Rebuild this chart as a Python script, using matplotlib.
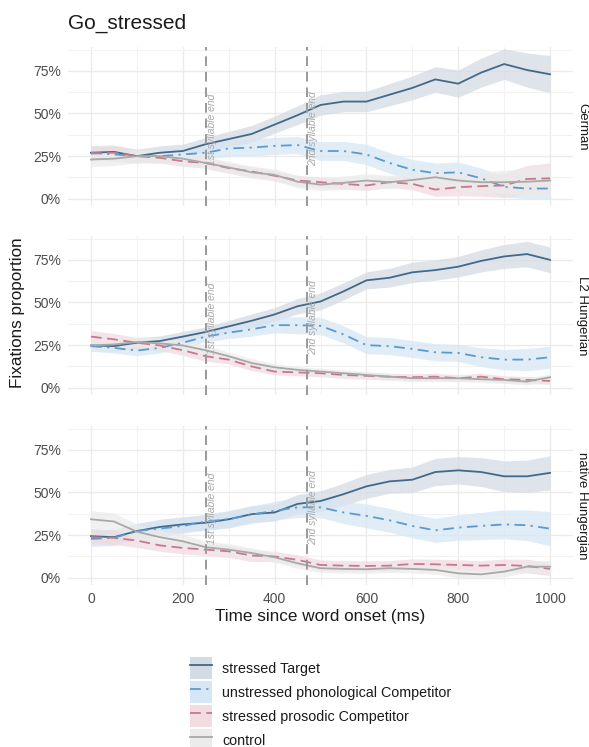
import matplotlib
matplotlib.use('Agg')
import matplotlib.pyplot as plt
from matplotlib.lines import Line2D
from matplotlib.patches import Patch
from matplotlib.ticker import PercentFormatter, MultipleLocator
import numpy as np

plt.rcParams['font.family'] = ['Liberation Sans', 'DejaVu Sans']

time_ms = list(range(0, 1001, 50))
groups = ['German', 'L2 Hungerian', 'native Hungergian']
conditions = ['stressed Target', 'unstressed phonological Competitor',
              'stressed prosodic Competitor', 'control']

# mean fixation proportions (%), one list per group and condition
german_target = [27, 27.5, 25, 27, 28, 32, 35, 38, 43.5, 49, 55, 57, 57, 61, 65, 70, 67.5, 74, 79, 75.5, 73]
german_phono = [27, 26, 25, 25, 26, 27, 29.5, 30, 31, 31.5, 28, 28, 26, 21, 17, 15, 15.5, 12, 7, 6, 6]
german_prosodic = [26.5, 27, 25, 24, 22, 21, 18, 16, 13.5, 10.7, 9.7, 8.7, 7.8, 9.7, 8.7, 5.4, 6.8, 7.4, 7.8, 11.6, 12]
german_control = [23, 23.5, 25, 25, 23.5, 21, 18.4, 15.5, 14, 10, 8.3, 9.3, 10.7, 9.7, 11, 12.6, 10.7, 9.7, 9.7, 10, 10.7]

l2_target = [24.8, 24.4, 26.4, 27.4, 30, 32.7, 36, 39.3, 43, 47.8, 50.6, 56.5, 63, 64.5, 67.7, 69, 71, 74.4, 77, 78.4, 75]
l2_phono = [24.4, 23.4, 21.8, 23.4, 26.4, 30, 32.3, 34.3, 36.7, 36.7, 36.3, 31.3, 25, 24.4, 22.8, 20.8, 20.4, 17.9, 16.5, 16.5, 17.9]
l2_prosodic = [30, 28.4, 26.4, 24.8, 22, 18.5, 16.5, 12.5, 9.5, 9, 8.5, 7.5, 7, 6.5, 6.2, 6.5, 5.6, 6.5, 5, 4.6, 4]
l2_control = [24.8, 25.4, 26.8, 26, 24.8, 22, 18.5, 14.5, 12, 10.5, 9.5, 8.5, 7.5, 6.5, 5.6, 5.6, 5.6, 5, 4.6, 3.6, 6.2]

native_target = [24.4, 23.8, 27.4, 29.8, 31.3, 32.3, 34.3, 37.3, 38.3, 43.3, 45, 49, 53.6, 56.5, 57.5, 62, 63, 62, 59.5, 59.5, 61.5]
native_phono = [22.8, 23.4, 27.4, 28.8, 30.4, 33, 34.3, 37, 39.3, 41.3, 41.3, 38.3, 36.3, 33.7, 30.4, 27.8, 29.4, 30.4, 31.3, 30.8, 28.8]
native_prosodic = [23.8, 23.4, 21.8, 19, 17.5, 16.5, 15.5, 13, 12.5, 10.5, 7.5, 7.1, 6.9, 7.1, 8.1, 7.9, 7.5, 7.1, 7.5, 6.9, 5.2]
native_control = [34.3, 33, 27, 23.8, 21.4, 17.9, 16.5, 14.5, 12, 8.5, 5.6, 5.2, 5, 5.6, 5.2, 4.6, 2.6, 2, 3.6, 6.5, 6.5]

# ribbon half widths (%)
german_target_ci = [4, 4, 4, 4, 4, 4, 4.5, 5, 5, 5.5, 6, 6, 6, 6.5, 7, 7.5, 8, 8.5, 9, 10, 11]
german_phono_ci = [4, 4, 4, 4, 4, 4, 4.5, 5, 5, 5, 5.5, 5.5, 6, 6, 6, 6, 6, 6, 6, 6, 6]
german_prosodic_ci = [3.5, 3.5, 3.5, 3, 3, 3, 3, 3, 3, 3, 3, 3, 3, 3, 3.5, 4, 5, 6, 7, 8, 9]
german_control_ci = [4, 4, 4, 3.5, 3.5, 3.5, 3.5, 3.5, 3.5, 3.5, 3.5, 4, 4, 4, 4, 4.5, 5, 6, 7, 8, 8]

l2_target_ci = [3, 3, 3, 3, 3, 3, 3.5, 4, 4, 4.5, 5, 5, 5, 5.5, 6, 6, 6, 6.5, 7, 7.5, 7.5]
l2_phono_ci = [3, 3, 3, 3, 3, 3, 3.5, 4, 4.5, 5, 5, 5, 5, 5, 5, 5, 5, 5.5, 6, 6.5, 6.5]
l2_prosodic_ci = [3.5, 3.5, 3, 3, 3, 3, 2.5, 2.5, 2, 2, 2, 2, 2, 2, 2, 2, 2, 2, 2, 2, 2]
l2_control_ci = [3, 3, 3, 3, 3, 3, 2.5, 2.5, 2, 2, 2, 2, 2, 2, 2, 2, 2, 2, 2, 2, 2]

native_target_ci = [4.5, 4.5, 4.5, 4.5, 4.5, 4.5, 5, 5, 5, 5.5, 6, 6.5, 7, 7, 7.5, 8, 8, 8.5, 9, 9.5, 10]
native_phono_ci = [4.5, 4.5, 4.5, 4.5, 4.5, 4.5, 5, 5, 5.5, 6, 6, 6.5, 7, 7, 7, 7, 7.5, 8, 8.5, 9, 10]
native_prosodic_ci = [4, 4, 4, 3.5, 3.5, 3.5, 3.5, 3.5, 3, 3, 3, 3, 3, 3, 3, 3, 3, 3, 3.5, 4, 4]
native_control_ci = [5, 5, 4.5, 4, 4, 3.5, 3.5, 3, 3, 3, 2.5, 2.5, 2.5, 2.5, 2.5, 2.5, 2.5, 2.5, 3, 3.5, 3.5]

syllable_ends = [250, 470]
syllable_labels = ['1st syllable end', '2nd syllable end']

means = [
    [german_target, german_phono, german_prosodic, german_control],
    [l2_target, l2_phono, l2_prosodic, l2_control],
    [native_target, native_phono, native_prosodic, native_control],
]
cis = [
    [german_target_ci, german_phono_ci, german_prosodic_ci, german_control_ci],
    [l2_target_ci, l2_phono_ci, l2_prosodic_ci, l2_control_ci],
    [native_target_ci, native_phono_ci, native_prosodic_ci, native_control_ci],
]

line_colors = ['#41698A', '#5B9AD0', '#C9788A', '#A8A8A8']
fill_colors = ['#D3DCE4', '#D6E6F4', '#F1DCE2', '#EBEBEB']
line_styles = ['-', (0, (6, 3, 1.2, 3)), (0, (6, 3)), '-']

fig = plt.figure(figsize=(5.89, 7.47), dpi=100)
W, H = 589, 747
panel_top_px = [47, 236, 426]
panel_h_px = 159
axes = []
for i in range(3):
    ax = fig.add_axes([68 / W, 1 - (panel_top_px[i] + panel_h_px) / H, 505 / W, panel_h_px / H])
    axes.append(ax)

t = np.array(time_ms)
for i, ax in enumerate(axes):
    for j in range(4):
        m = np.array(means[i][j]) / 100
        c = np.array(cis[i][j]) / 100
        ax.fill_between(t, m - c, m + c, color=fill_colors[j], alpha=0.75, linewidth=0)
    for j in range(4):
        m = np.array(means[i][j]) / 100
        ax.plot(t, m, color=line_colors[j], linestyle=line_styles[j], linewidth=1.3)

    for x, lab in zip(syllable_ends, syllable_labels):
        ax.axvline(x, color='#999999', linestyle=(0, (5, 3)), linewidth=1.4)
        ax.text(x + 14, 0.41, lab, rotation=90, ha='center', va='center',
                fontsize=7.5, color='#AAAAAA', style='italic')

    ax.set_xlim(-50, 1050)
    ax.set_ylim(-0.0425, 0.89)
    ax.xaxis.set_major_locator(MultipleLocator(200))
    ax.xaxis.set_minor_locator(MultipleLocator(100))
    ax.yaxis.set_major_locator(MultipleLocator(0.25))
    ax.yaxis.set_minor_locator(MultipleLocator(0.125))
    ax.yaxis.set_major_formatter(PercentFormatter(1.0, decimals=0))
    ax.grid(True, which='major', color='#EBEBEB', linewidth=1.0)
    ax.grid(True, which='minor', color='#F2F2F2', linewidth=0.8)
    ax.set_axisbelow(True)
    for s in ax.spines.values():
        s.set_visible(False)
    ax.tick_params(which='both', length=0, labelsize=10, labelcolor='#4D4D4D', pad=5)
    if i < 2:
        ax.tick_params(labelbottom=False)
    ax.text(1.018, 0.5, groups[i], transform=ax.transAxes, rotation=-90,
            ha='center', va='center', fontsize=9.5, color='#1A1A1A')

fig.text(68 / W, 1 - 23 / H, 'Go_stressed', fontsize=15, color='#1A1A1A', ha='left', va='center')
fig.text(18 / W, 1 - 313 / H, 'Fixations proportion', rotation=90, fontsize=12.3,
         color='#1A1A1A', ha='center', va='center')
fig.text((68 + 505 / 2) / W, 1 - 617 / H, 'Time since word onset (ms)', fontsize=12.3,
         color='#1A1A1A', ha='center', va='center')

handles = []
for j in range(4):
    handles.append((Patch(facecolor=fill_colors[j], edgecolor='none'),
                    Line2D([], [], color=line_colors[j], linestyle=line_styles[j], linewidth=1.3)))
fig.legend(handles, conditions, loc='upper left', bbox_to_anchor=(190 / W, 1 - 657 / H),
           frameon=False, fontsize=10.3, handlelength=1.54, handleheight=1.99,
           labelspacing=0.14, handletextpad=0.7, borderpad=0, borderaxespad=0,
           labelcolor='#1A1A1A')

plt.savefig('out.png', dpi=100)
